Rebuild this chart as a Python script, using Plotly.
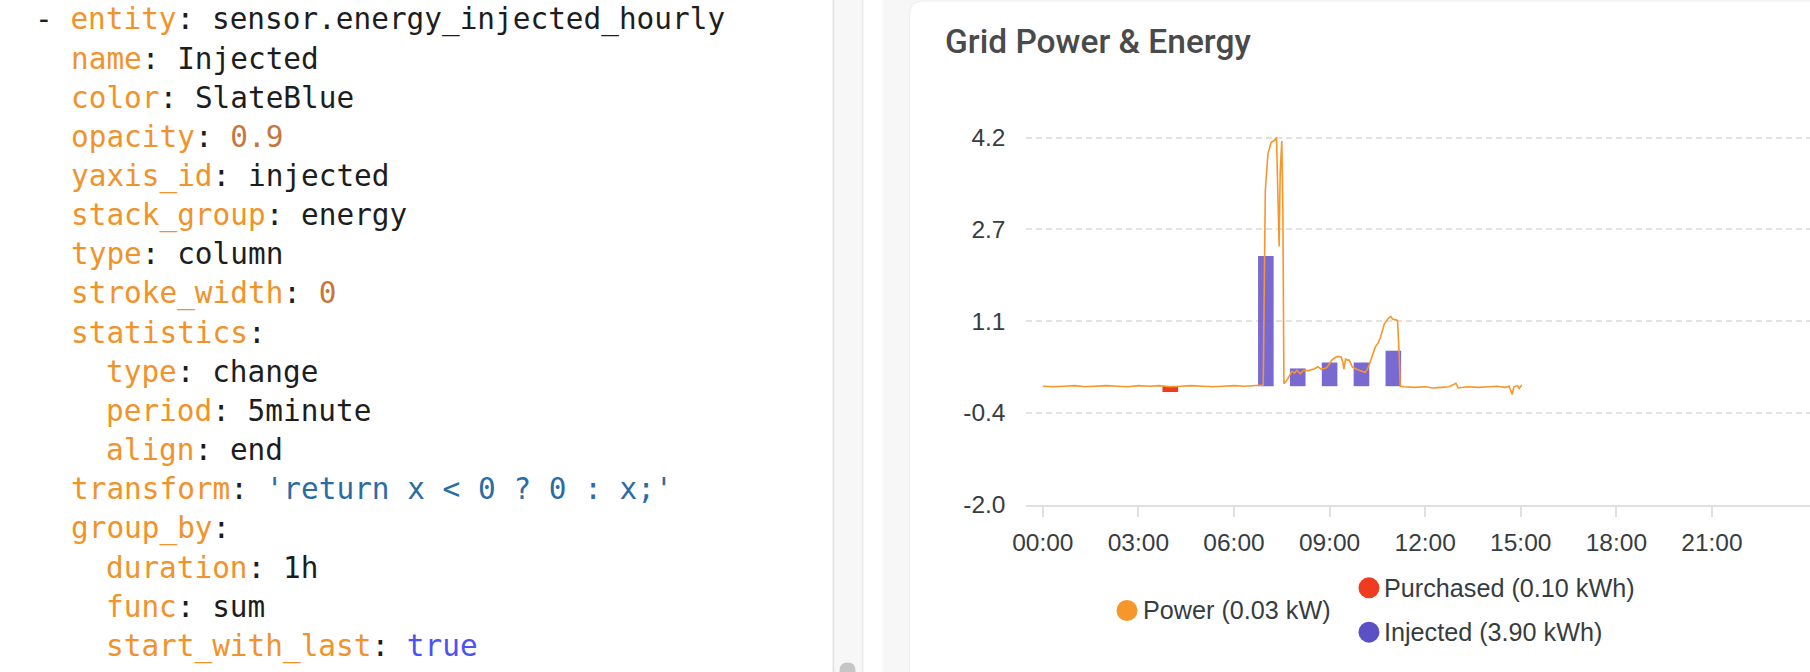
import plotly.graph_objects as go

W, H = 1810, 672
DAY = "2024-01-01"
PREV_DAY = "2023-12-31"
NEXT_DAY = "2024-01-02"

# ---------------- data ----------------
TICK_HOURS = ["00:00", "03:00", "06:00", "09:00", "12:00", "15:00", "18:00", "21:00"]
TICK_LABELS = ["00:00", "03:00", "06:00", "09:00", "12:00", "15:00", "18:00", "21:00"]

Y_TICKS = [-2.0, -0.45, 1.1, 2.65, 4.2]
Y_LABELS = ["-2.0", "-0.4", "1.1", "2.7", "4.2"]

PURCHASED_TIMES = ["04:00"]
PURCHASED_VALUES = [-0.10]

INJECTED_TIMES = ["07:00", "08:00", "09:00", "10:00", "11:00"]
INJECTED_VALUES = [2.20, 0.30, 0.40, 0.40, 0.60]

POWER_TIMES = [
    "00:00", "00:20", "00:40", "01:00", "01:20", "01:40", "02:00", "02:20", "02:40",
    "03:00", "03:20", "03:40", "04:00", "04:20", "04:40", "05:00", "05:20", "05:40",
    "06:00", "06:20", "06:40", "06:55", "06:59", "07:04", "07:10", "07:16", "07:20",
    "07:22", "07:25", "07:27", "07:30", "07:32", "07:34", "07:39", "07:44", "07:49",
    "07:54", "07:58", "08:05", "08:10", "08:14", "08:20", "08:26", "08:31", "08:38",
    "08:44", "08:50", "08:54", "09:00", "09:04", "09:10", "09:14", "09:18", "09:22",
    "09:25", "09:27", "09:30", "09:34", "09:37", "09:43", "09:50", "09:56", "10:02",
    "10:07", "10:13", "10:20", "10:26", "10:32", "10:36", "10:43", "10:50", "10:55",
    "10:59", "11:05", "11:08", "11:11", "11:13", "11:20", "11:40", "12:00", "12:15",
    "12:30", "12:45", "12:58", "13:02", "13:20", "13:40", "14:00", "14:15", "14:30",
    "14:38", "14:44", "14:47", "14:54", "14:57", "15:02",
]
POWER_VALUES = [
    0.00, -0.01, 0.00, 0.01, -0.01, 0.00, 0.01, 0.00, -0.01,
    0.01, 0.00, 0.01, -0.01, 0.00, 0.01, 0.00, -0.01, 0.00,
    0.01, 0.00, 0.01, 0.02, 3.31, 3.93, 4.12, 4.15, 4.20,
    3.40, 2.36, 3.60, 4.14, 3.00, 0.04, 0.09, 0.18, 0.25,
    0.22, 0.27, 0.21, 0.26, 0.27, 0.26, 0.28, 0.29, 0.33,
    0.29, 0.30, 0.31, 0.38, 0.44, 0.48, 0.50, 0.50, 0.49,
    0.40, 0.29, 0.46, 0.44, 0.44, 0.32, 0.29, 0.27, 0.25,
    0.23, 0.32, 0.52, 0.66, 0.74, 0.83, 1.05, 1.14, 1.18,
    1.13, 1.12, 1.11, 0.55, 0.00, -0.01, -0.02, -0.01, -0.03,
    -0.02, -0.01, 0.05, -0.03, -0.01, -0.02, -0.01, 0.00, -0.02,
    0.00, -0.14, -0.01, 0.01, -0.04, 0.02,
]

LEGEND_POWER = "Power (0.03 kW)"
LEGEND_PURCHASED = "Purchased (0.10 kWh)"
LEGEND_INJECTED = "Injected (3.90 kWh)"
TITLE = "Grid Power & Energy"

# YAML config shown in the editor: (indent, key, value, kind)
CODE_LINES = [
    (0, "entity", "sensor.energy_injected_hourly", "plain"),
    (2, "name", "Injected", "plain"),
    (2, "color", "SlateBlue", "plain"),
    (2, "opacity", "0.9", "num"),
    (2, "yaxis_id", "injected", "plain"),
    (2, "stack_group", "energy", "plain"),
    (2, "type", "column", "plain"),
    (2, "stroke_width", "0", "num"),
    (2, "statistics", "", None),
    (4, "type", "change", "plain"),
    (4, "period", "5minute", "plain"),
    (4, "align", "end", "plain"),
    (2, "transform", "'return x &lt; 0 ? 0 : x;'", "str"),
    (2, "group_by", "", None),
    (4, "duration", "1h", "plain"),
    (4, "func", "sum", "plain"),
    (4, "start_with_last", "true", "bool"),
]

# ---------------- layout helpers (target pixel -> paper) ----------------
OX, SX, SY = 13.3, 0.993, 0.9785


def sx(x):
    return (x - OX) / SX


def sy(y):
    return y / SY


def px(x):
    return sx(x) / W


def py(y):
    return 1 - sy(y) / H


def ts(hhmm, day=DAY):
    return f"{day} {hhmm}:00"


BAR_W_MS = 0.49 * 3600 * 1000
AX_FONT = dict(family="Liberation Sans, Arial, sans-serif", size=24.5, color="#373d3f")

fig = go.Figure()

fig.add_trace(go.Bar(
    x=[ts(t) for t in PURCHASED_TIMES], y=PURCHASED_VALUES, width=BAR_W_MS,
    marker=dict(color="#ef3b1f", line=dict(width=0)), name="Purchased",
))
fig.add_trace(go.Bar(
    x=[ts(t) for t in INJECTED_TIMES], y=INJECTED_VALUES, width=BAR_W_MS,
    marker=dict(color="SlateBlue", line=dict(width=0)), opacity=0.9, name="Injected",
))
fig.add_trace(go.Scatter(
    x=[ts(t) for t in POWER_TIMES], y=POWER_VALUES, mode="lines",
    line=dict(color="#f7962b", width=1.6), name="Power",
))

# target geometry: -2.0 at 504px, 4.2 at 136.7px; 00:00 at 1043.3px, 31.87 px/hour
pp_unit = (504 - 136.7) / 6.2
y_top_val = 4.4
y_top_px = 504 - (y_top_val + 2.0) * pp_unit
x_left_px = 1026
x_right_px = OX + SX * W
pp_hour = 31.87
h_left = (x_left_px - 1043.3) / pp_hour
h_right = (x_right_px - 1043.3) / pp_hour


def hour_ts(h):
    day = DAY
    if h < 0:
        h += 24
        day = PREV_DAY
    elif h >= 24:
        h -= 24
        day = NEXT_DAY
    hh = int(h)
    mm = int((h - hh) * 60)
    ss = int(round(((h - hh) * 60 - mm) * 60))
    if ss >= 60:
        ss = 59
    return f"{day} {hh:02d}:{mm:02d}:{ss:02d}"


fig.update_layout(
    width=W, height=H, autosize=False,
    margin=dict(l=0, r=0, t=0, b=0, pad=0),
    paper_bgcolor="white", plot_bgcolor="rgba(0,0,0,0)",
    showlegend=False, barmode="overlay",
    xaxis=dict(
        type="date",
        domain=[px(x_left_px), 1.0],
        range=[hour_ts(h_left), hour_ts(h_right)],
        tickvals=[ts(t) for t in TICK_HOURS], ticktext=TICK_LABELS,
        ticks="outside", ticklen=10, tickwidth=1.5, tickcolor="#e0e0e0",
        showline=True, linecolor="#e0e0e0", linewidth=2,
        showgrid=False, zeroline=False, tickfont=AX_FONT, ticklabelstandoff=5,
    ),
    yaxis=dict(
        domain=[py(504), py(y_top_px)],
        range=[-2.0, y_top_val],
        tickvals=Y_TICKS, ticktext=Y_LABELS,
        showgrid=True, gridcolor="#e2e2e2", gridwidth=1.5, griddash="6px,4px",
        zeroline=False, showline=False, ticks="",
        tickfont=AX_FONT, ticklabelstandoff=19,
    ),
)

shapes = []


def rect(x0, x1, y0, y1, color):
    return dict(type="rect", xref="paper", yref="paper", x0=px(x0), x1=px(x1),
                y0=py(y1), y1=py(y0), fillcolor=color, line=dict(width=0), layer="below")


# editor / page chrome
shapes.append(rect(833, 835, -5, 690, "#e2e2e2"))
shapes.append(rect(835, 862, -5, 690, "#f7f7f7"))
shapes.append(rect(862, 864, -5, 690, "#ebebeb"))
shapes.append(rect(883, 1830, -5, 690, "#f7f7f7"))
# card with rounded top-left corner
r = 14
card_path = (f"M {px(910)},{py(690)} L {px(910)},{py(r)} "
             f"Q {px(910)},{py(0)} {px(910 + r)},{py(0)} "
             f"L {px(1830)},{py(0)} L {px(1830)},{py(690)} Z")
shapes.append(dict(type="path", xref="paper", yref="paper", path=card_path,
                   fillcolor="white", line=dict(color="#eeeeee", width=1), layer="below"))
# scrollbar thumb
sb_path = (f"M {px(840)},{py(680)} L {px(840)},{py(670)} "
           f"Q {px(840)},{py(662)} {px(848)},{py(662)} "
           f"Q {px(856)},{py(662)} {px(856)},{py(670)} L {px(856)},{py(680)} Z")
shapes.append(dict(type="path", xref="paper", yref="paper", path=sb_path,
                   fillcolor="#c6c6c6", line=dict(width=0), layer="below"))


# legend markers
def circle(cx, cy, rad, color):
    return dict(type="circle", xref="paper", yref="paper",
                x0=px(cx - rad), x1=px(cx + rad), y0=py(cy + rad), y1=py(cy - rad),
                fillcolor=color, line=dict(width=0))


shapes.append(circle(1127.5, 610, 10.5, "#f7962b"))
shapes.append(circle(1369.5, 587.3, 10.5, "#ef3b1f"))
shapes.append(circle(1369.5, 631.7, 10.5, "#5b51c6"))
fig.update_layout(shapes=shapes)

annotations = []
# title
annotations.append(dict(
    text=TITLE, x=px(943), y=py(41), xref="paper", yref="paper",
    xanchor="left", yanchor="middle", showarrow=False,
    font=dict(family="Roboto, sans-serif", size=33.5, color="#4a4a4a", weight=500),
))
# legend labels
LEG_FONT = dict(family="Liberation Sans, Arial, sans-serif", size=25.2, color="#373d3f")
for txt, lx, ly in [(LEGEND_POWER, 1142, 610), (LEGEND_PURCHASED, 1383, 587.3), (LEGEND_INJECTED, 1383, 631.7)]:
    annotations.append(dict(text=txt, x=px(lx), y=py(ly), xref="paper", yref="paper",
                            xanchor="left", yanchor="middle", showarrow=False, font=LEG_FONT))

# editor code lines
KEY_C = "#f0932b"
VAL_C = {"plain": "#1d1d1d", "num": "#c4773f", "str": "#2b6ca3", "bool": "#4b53f2"}
CHAR_W = 17.7
FS = 29.4
for i, (indent, key, val, kind) in enumerate(CODE_LINES):
    prefix = "- " if i == 0 else ""
    html = prefix + f'<span style="color:{KEY_C}">{key}</span>:'
    if kind is not None:
        html += f' <span style="color:{VAL_C[kind]}">{val}</span>'
    x = 33.6 + indent * CHAR_W
    baseline = 27.5 + 39.2 * i
    annotations.append(dict(
        text=html, x=px(x), y=py(baseline - 9.0), xref="paper", yref="paper",
        xanchor="left", yanchor="middle", showarrow=False, align="left",
        font=dict(family="DejaVu Sans Mono, monospace", size=FS, color="#1d1d1d"),
    ))
fig.update_layout(annotations=annotations)

fig.write_html(
    "out.html",
    config={"displayModeBar": False},
    post_script="document.body.style.margin='0';document.body.style.overflow='hidden';",
)
